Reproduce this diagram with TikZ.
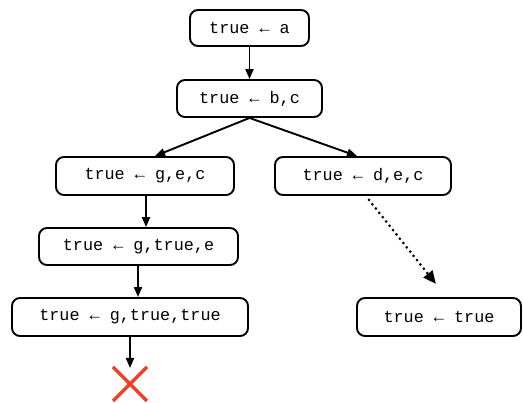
\documentclass[tikz,border=0pt]{standalone}
\usepackage{fontspec}
\setmonofont{Liberation Mono}
\usetikzlibrary{arrows.meta}
\definecolor{xred}{HTML}{EE4022}
\begin{document}
\begin{tikzpicture}[x=1pt,y=-1pt,
  goal/.style={draw, line width=1.9pt, rounded corners=8pt, inner sep=0pt, font=\ttfamily\fontsize{16.8}{19}\selectfont},
  arr/.style={-{Triangle[length=10pt,width=8pt]}, line width=1.9pt},
  dotarr/.style={-{Triangle[length=13pt,width=11pt]}, line width=3pt, line cap=round, dash pattern=on 0pt off 5.5pt}]
\useasboundingbox (0,0) rectangle (523,403);
\node[goal, minimum width=119pt, minimum height=36pt] (a) at (249.5,28) {true ← a};
\node[goal, minimum width=145pt, minimum height=37pt] (bc) at (249.5,98.5) {true ← b,c};
\node[goal, minimum width=178pt, minimum height=38pt] (gec) at (145,176) {true ← g,e,c};
\node[goal, minimum width=176pt, minimum height=38pt] (dec) at (363,176) {true ← d,e,c};
\node[goal, minimum width=199pt, minimum height=37pt] (gte) at (138.5,246.5) {true ← g,true,e};
\node[goal, minimum width=236pt, minimum height=38pt] (gtt) at (130,317) {true ← g,true,true};
\node[goal, minimum width=164pt, minimum height=38pt] (tt) at (439,317) {true ← true};
\coordinate (xtop) at (130,368);
\coordinate (dstart) at (369,200);
\coordinate (dend) at (436,284);
\draw[xred, line width=3.5pt] (113,367) -- (147,401) (147,367) -- (113,401);
\draw[arr] (a) -- (bc);
\draw[arr] (bc.south) -- (gec.north east -| 155,0);
\draw[arr] (bc.south) -- (dec.north west -| 357,0);
\draw[arr] (gec.south -| 146,0) -- (gte.north -| 146,0);
\draw[arr] (gte.south -| 138,0) -- (gtt.north -| 138,0);
\draw[arr] (gtt.south) -- (xtop);
\draw[dotarr] (dstart) -- (dend);
\end{tikzpicture}
\end{document}
